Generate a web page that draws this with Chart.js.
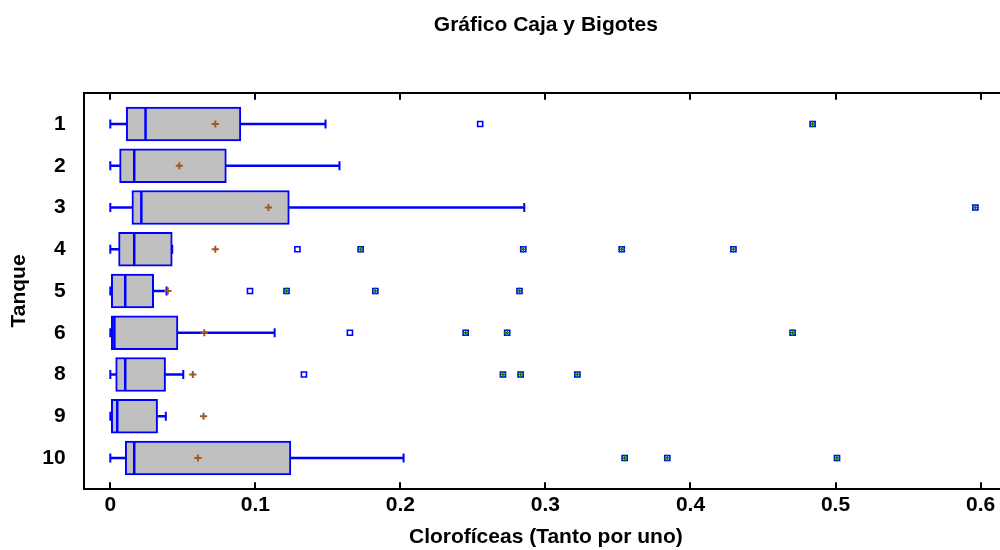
<!DOCTYPE html>
<html>
<head>
<meta charset="utf-8">
<script src="https://cdn.jsdelivr.net/npm/chart.js@4.4.1/dist/chart.umd.min.js"></script>
<style>
  html, body { margin: 0; padding: 0; background: #fff; overflow: hidden; width: 1000px; height: 550px; }
  canvas { display: block; }
</style>
</head>
<body>
<canvas id="c" width="1008" height="550"></canvas>
<script>
// ---- data ----
const tanks   = ['1', '2', '3', '4', '5', '6', '8', '9', '10'];
const minW    = [0, 0, 0, 0, 0, 0, 0, 0, 0];
const q1      = [0.0110, 0.0064, 0.0149, 0.0057, 0.0000, 0.0000, 0.0037, 0.0000, 0.0103];
const median  = [0.0243, 0.0165, 0.0214, 0.0165, 0.0103, 0.0028, 0.0103, 0.0048, 0.0165];
const q3      = [0.0900, 0.0800, 0.1234, 0.0427, 0.0299, 0.0466, 0.0381, 0.0326, 0.1245];
const maxW    = [0.1484, 0.1580, 0.2854, 0.0427, 0.0388, 0.1133, 0.0503, 0.0383, 0.2022];
const mean    = [0.0724, 0.0476, 0.1090, 0.0724, 0.0397, 0.0648, 0.0569, 0.0643, 0.0604];
// outside points: [tank index, value]
const outside = [[0, 0.255], [3, 0.129], [4, 0.0963], [5, 0.1652], [6, 0.1335]];
// far outside points: [tank index, value]
const farOutside = [
  [0, 0.4842], [2, 0.5964],
  [3, 0.1726], [3, 0.2847], [3, 0.3526], [3, 0.4296],
  [4, 0.1215], [4, 0.1827], [4, 0.2821],
  [5, 0.2450], [5, 0.2736], [5, 0.4704],
  [6, 0.2707], [6, 0.2829], [6, 0.3220],
  [8, 0.3546], [8, 0.3840], [8, 0.5010]
];
const xTicks      = [0, 0.1, 0.2, 0.3, 0.4, 0.5, 0.6];
const xTickLabels = ['0', '0.1', '0.2', '0.3', '0.4', '0.5', '0.6'];
const titleText  = 'Gráfico Caja y Bigotes';
const xTitleText = 'Clorofíceas (Tanto por uno)';
const yTitleText = 'Tanque';

// ---- chart ----
Chart.defaults.font.family = "'Liberation Sans', Arial, sans-serif";
Chart.defaults.font.weight = 'bold';
Chart.defaults.font.size = 21;
Chart.defaults.color = '#000';

const BLUE = '#0000ff';
const X_MIN = -0.01834, X_MAX = 0.6189;

const idx = tanks.map((_, i) => i);

const datasets = [
  { // lower whiskers
    type: 'bar', indexAxis: 'y', grouped: false, order: 7,
    data: idx.filter(i => q1[i] > minW[i]).map(i => ({ y: i, x: [minW[i], q1[i]] })),
    barThickness: 2, backgroundColor: BLUE, borderWidth: 0
  },
  { // upper whiskers
    type: 'bar', indexAxis: 'y', grouped: false, order: 6,
    data: idx.filter(i => maxW[i] > q3[i]).map(i => ({ y: i, x: [q3[i], maxW[i]] })),
    barThickness: 2, backgroundColor: BLUE, borderWidth: 0
  },
  { // boxes
    type: 'bar', indexAxis: 'y', grouped: false, order: 5,
    data: idx.map(i => ({ y: i, x: [q1[i], q3[i]] })),
    barThickness: 34, backgroundColor: '#c0c0c0', borderColor: BLUE,
    borderWidth: 2, borderSkipped: false
  },
  { // whisker caps
    type: 'scatter', order: 4,
    data: idx.map(i => ({ x: minW[i], y: i })).concat(idx.map(i => ({ x: maxW[i], y: i }))),
    pointStyle: 'line', pointRotation: 90, pointRadius: 4.5,
    pointBorderWidth: 2, pointBorderColor: BLUE, pointBackgroundColor: BLUE
  },
  { // medians
    type: 'scatter', order: 3,
    data: idx.map(i => ({ x: median[i], y: i })),
    pointStyle: 'line', pointRotation: 90, pointRadius: 16,
    pointBorderWidth: 2.5, pointBorderColor: BLUE, pointBackgroundColor: BLUE
  },
  { // means
    type: 'scatter', order: 2,
    data: idx.map(i => ({ x: mean[i], y: i })),
    pointStyle: 'cross', pointRadius: 3.6,
    pointBorderWidth: 2, pointBorderColor: '#a0582a', pointBackgroundColor: '#a0582a'
  },
  { // outside points
    type: 'scatter', order: 1,
    data: outside.concat(farOutside).map(p => ({ x: p[1], y: p[0] })),
    pointStyle: 'rect', pointRadius: 3.6,
    pointBorderWidth: 1.6, pointBorderColor: BLUE, pointBackgroundColor: '#ffffff'
  },
  { // far outside marker
    type: 'scatter', order: 0,
    data: farOutside.map(p => ({ x: p[1], y: p[0] })),
    pointStyle: 'cross', pointRadius: 3.2,
    pointBorderWidth: 1.5, pointBorderColor: '#008000', pointBackgroundColor: '#008000'
  }
];

new Chart(document.getElementById('c'), {
  type: 'bar',
  data: { datasets },
  options: {
    responsive: false,
    animation: false,
    events: [],
    indexAxis: 'y',
    layout: { padding: 0, autoPadding: false },
    plugins: {
      legend: { display: false },
      tooltip: { enabled: false },
      title: {
        display: true, text: titleText, fullSize: false,
        color: '#000', font: { size: 21, weight: 'bold' },
        padding: { top: 12.8, bottom: 54.7 }
      }
    },
    scales: {
      x: {
        type: 'linear', position: 'bottom', min: X_MIN, max: X_MAX, offset: false,
        afterBuildTicks: s => { s.ticks = xTicks.map(v => ({ value: v })); },
        afterFit: s => { s.height = 60.7; s.paddingLeft = 0; s.paddingRight = 0; },
        ticks: { callback: (v, i) => xTickLabels[i], padding: 10.6, maxRotation: 0, autoSkip: false, color: '#000' },
        grid: { offset: false, drawOnChartArea: false, drawTicks: true, tickLength: -7, color: '#000', lineWidth: 2 },
        border: { display: true, color: '#000', width: 2 },
        title: { display: true, text: xTitleText, color: '#000', font: { size: 21, weight: 'bold' }, padding: { top: 0, bottom: 0 } }
      },
      x2: {
        type: 'linear', position: 'top', min: X_MIN, max: X_MAX, offset: false,
        afterBuildTicks: s => { s.ticks = xTicks.map(v => ({ value: v })); },
        afterFit: s => { s.height = 0; s.paddingLeft = 0; s.paddingRight = 0; },
        ticks: { display: false },
        grid: { offset: false, drawOnChartArea: false, drawTicks: true, tickLength: -7, color: '#000', lineWidth: 2 },
        border: { display: true, color: '#000', width: 2 }
      },
      y: {
        type: 'linear', position: 'left', reverse: true, min: -0.75, max: 8.75, offset: false,
        afterBuildTicks: s => { s.ticks = idx.map(v => ({ value: v })); },
        afterFit: s => { s.width = 83.7; },
        ticks: { callback: (v, i) => tanks[i], padding: 18, autoSkip: false, color: '#000' },
        grid: { display: false, drawTicks: false, offset: false },
        border: { display: true, color: '#000', width: 2 },
        title: { display: true, text: yTitleText, color: '#000', font: { size: 21, weight: 'bold' }, padding: { top: 6.8, bottom: 0 } }
      }
    }
  }
});
</script>
</body>
</html>
